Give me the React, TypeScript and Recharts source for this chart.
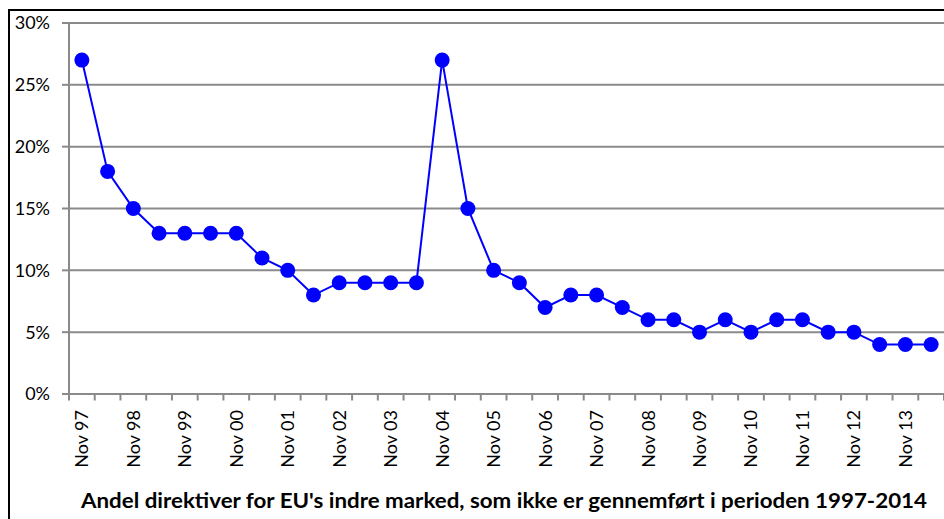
import { LineChart, Line, XAxis, YAxis, CartesianGrid } from "recharts";

const periods = [
  "Nov 97", "May 98", "Nov 98", "May 99", "Nov 99", "May 00", "Nov 00", "May 01",
  "Nov 01", "May 02", "Nov 02", "May 03", "Nov 03", "May 04", "Nov 04", "May 05",
  "Nov 05", "May 06", "Nov 06", "May 07", "Nov 07", "May 08", "Nov 08", "May 09",
  "Nov 09", "May 10", "Nov 10", "May 11", "Nov 11", "May 12", "Nov 12", "May 13",
  "Nov 13", "May 14",
];
const shares = [
  27, 18, 15, 13, 13, 13, 13, 11, 10, 8, 9, 9, 9, 9, 27, 15, 10, 9, 7, 8, 8, 7,
  6, 6, 5, 6, 5, 6, 6, 5, 5, 4, 4, 4,
];
const yTicks = [0, 5, 10, 15, 20, 25, 30];
const title =
  "Andel direktiver for EU's indre marked, som ikke er gennemført i perioden 1997-2014";

const data = periods.map((period, i) => ({ period, share: shares[i] }));

const GRID = "#8a8a8a";
const BLUE = "#0000ff";
const FONT = "Lato, 'Open Sans', sans-serif";

function PeriodTick(props: any) {
  const { x, y, payload } = props;
  const half = payload?.offset || 875 / 34 / 2;
  const idx = payload?.index ?? props.index;
  const axisY = y - 16;
  return (
    <g>
      <line x1={x - half} x2={x - half} y1={axisY} y2={axisY + 6.5} stroke={GRID} strokeWidth={2} />
      {idx === periods.length - 1 && (
        <line x1={x + half} x2={x + half} y1={axisY} y2={axisY + 6.5} stroke={GRID} strokeWidth={2} />
      )}
      {idx % 2 === 0 && (
        <text
          x={x}
          y={y}
          dy="0.36em"
          textAnchor="end"
          transform={`rotate(-90 ${x} ${y})`}
          fill="#000"
          fontSize={18}
          fontFamily={FONT}
        >
          {payload.value}
        </text>
      )}
    </g>
  );
}

export default function App() {
  return (
    <div
      style={{
        position: "fixed",
        left: 0,
        top: 0,
        width: 944,
        height: 519,
        overflow: "hidden",
        background: "#fff",
      }}
    >
      <LineChart width={944} height={519} data={data} margin={{ top: 23, right: 0, left: 0, bottom: 45 }}>
        <CartesianGrid vertical={false} stroke={GRID} strokeWidth={2} />
        <XAxis
          dataKey="period"
          scale="band"
          height={80}
          interval={0}
          tickSize={0}
          tickMargin={16}
          tick={<PeriodTick />}
          axisLine={{ stroke: GRID, strokeWidth: 2 }}
        />
        <YAxis
          width={69}
          domain={[0, 30]}
          ticks={yTicks}
          tickFormatter={(v) => `${v}%`}
          tickSize={7}
          tickMargin={12}
          axisLine={{ stroke: GRID, strokeWidth: 2 }}
          tickLine={{ stroke: GRID, strokeWidth: 2 }}
          tick={{ fill: "#000", fontSize: 18, fontFamily: FONT }}
        />
        <Line
          dataKey="share"
          stroke={BLUE}
          strokeWidth={2}
          dot={{ r: 7.5, fill: BLUE, stroke: "none" }}
          isAnimationActive={false}
        />
      </LineChart>
      <svg
        width={944}
        height={519}
        style={{ position: "absolute", left: 0, top: 0, pointerEvents: "none" }}
      >
        <line x1={9} x2={9} y1={9} y2={519} stroke="#000" strokeWidth={2} />
        <line x1={8} x2={944} y1={10} y2={10} stroke="#000" strokeWidth={2} />
        <text
          x={504}
          y={508}
          textAnchor="middle"
          fontSize={20}
          fontWeight="bold"
          fontFamily={FONT}
          fill="#000"
          textLength={846}
          lengthAdjust="spacingAndGlyphs"
        >
          {title}
        </text>
      </svg>
    </div>
  );
}
